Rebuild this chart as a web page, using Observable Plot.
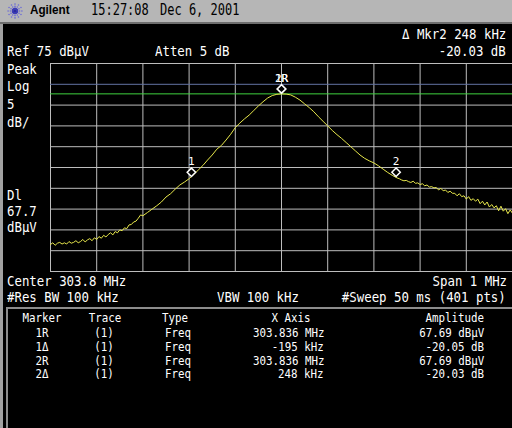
<!DOCTYPE html>
<html><head><meta charset="utf-8">
<script src="https://cdn.jsdelivr.net/npm/d3@7"></script>
<script src="https://cdn.jsdelivr.net/npm/@observablehq/plot@0.6"></script>
<style>
html,body{margin:0;padding:0;background:#000;}
#screen{position:relative;width:512px;height:428px;overflow:hidden;background:#000;}
.t{position:absolute;white-space:pre;line-height:1;font-family:"DejaVu Sans Mono",monospace;color:#fff;}
</style></head>
<body><div id="screen"></div>
<script>
// ---- data (frequency offset from centre, kHz ; level, dBµV) ----
const freqKHz = [
 -500,-495,-490,-485,-480,-475,-470,-465,-460,-455,-450,-445,-440,-435,-430,-425,-420,-415,-410,-405,
 -400,-395,-390,-385,-380,-375,-370,-365,-360,-355,-350,-345,-340,-335,-330,-325,-320,-315,-310,-305,-300,
 -290,-280,-270,-260,-250,-240,-230,-220,-210,-200,-190,-180,-170,-160,-150,-140,-130,-120,-110,-100,
 -90,-80,-70,-60,-50,-40,-30,-20,-10,0,10,20,30,40,50,60,70,80,90,100,110,120,130,140,150,160,170,180,190,
 200,210,220,230,240,250,
 255,260,265,270,275,280,285,290,295,300,305,310,315,320,325,330,335,340,345,350,355,360,365,370,375,
 380,385,390,395,400,405,410,415,420,425,430,435,440,445,450,455,460,465,470,475,480,485,490,495,500];
const levelDb = [
 31.5,31.9,31.3,31.8,32.0,31.6,31.9,31.6,32.2,31.8,32.0,32.4,31.9,32.2,32.7,32.1,32.6,32.9,32.4,33.1,
 32.7,33.4,33.0,33.7,33.3,33.9,34.3,33.8,34.6,34.3,35.0,34.8,35.5,35.3,36.2,36.3,36.9,37.1,37.8,38.6,38.4,
 39.2,40.0,40.8,41.7,42.9,43.7,44.8,45.8,46.5,47.3,48.3,49.4,50.5,51.8,53.0,54.4,55.3,56.6,58.0,59.6,
 60.7,61.7,62.6,63.7,64.8,65.8,66.7,67.3,67.6,67.69,67.65,67.45,66.9,66.2,65.3,64.4,63.4,62.2,61.1,60.0,58.9,57.9,57.0,56.0,55.0,54.0,53.0,52.2,51.6,
 51.1,50.4,49.6,48.8,48.1,47.5,
 47.3,47.0,46.8,46.9,46.6,46.4,46.7,46.2,46.3,45.9,46.1,45.6,45.8,45.3,45.4,45.1,45.2,44.6,45.0,44.4,44.6,44.0,44.3,43.8,43.8,
 43.2,43.7,43.0,43.2,42.4,43.0,42.1,42.5,41.9,42.4,41.3,41.9,41.0,41.7,40.5,41.1,40.3,40.8,39.6,40.7,39.5,40.1,38.9,39.8,39.0];

const gridKHz = [-500,-400,-300,-200,-100,0,100,200,300,400,500];
const gridDb = [25,30,35,40,45,50,55,60,65,75];
const refLineDb = [70];
const displayLineDb = [67.7];

const markerNames = ["1","1R","2R","2"];
const markerKHz = [-195,0,0,248];
const markerDb = [47.64,67.69,67.69,47.66];

const topTexts = ["Ref 75 dBµV","Atten 5 dB","Δ Mkr2 248 kHz","-20.03 dB"];
const sideTexts = ["Peak","Log","5","dB/","Dl","67.7","dBµV"];
const bottomTexts = ["Center 303.8 MHz","Span 1 MHz","#Res BW 100 kHz","VBW 100 kHz","#Sweep 50 ms (401 pts)"];
const tableHeader = ["Marker","Trace","Type","X Axis","Amplitude"];
const tableMarker = ["1R","1Δ","2R","2Δ"];
const tableTrace = ["(1)","(1)","(1)","(1)"];
const tableType = ["Freq","Freq","Freq","Freq"];
const tableX = ["303.836 MHz","-195 kHz","303.836 MHz","248 kHz"];
const tableAmp = ["67.69 dBµV","-20.05 dB","67.69 dBµV","-20.03 dB"];

// ---- page ----
const screen = document.getElementById("screen");
function box(css){const d=document.createElement("div");d.style.cssText="position:absolute;"+css;screen.appendChild(d);return d;}

const trace = freqKHz.map((f,i)=>({f, db: levelDb[i]}));
const markers = markerNames.map((n,i)=>({n, f: markerKHz[i], db: markerDb[i]}));

const plot = Plot.plot({
  width: 512, height: 266,
  marginLeft: 50, marginRight: 0, marginTop: 39, marginBottom: 19,
  x: {domain: [-500, 500], axis: null},
  y: {domain: [25, 75], axis: null},
  style: {background: "#000", color: "#fff", fontFamily: "DejaVu Sans Mono", fontSize: "11px"},
  marks: [
    Plot.ruleX(gridKHz, {stroke: "#bdbdbd", strokeWidth: 1}),
    Plot.ruleY(gridDb, {stroke: "#bdbdbd", strokeWidth: 1}),
    Plot.ruleY(refLineDb, {stroke: "#6373a4", strokeWidth: 1}),
    Plot.ruleY(displayLineDb, {stroke: "#3fd23f", strokeWidth: 1}),
    Plot.line(trace, {x: "f", y: "db", stroke: "#e8e84c", strokeWidth: 1}),
    Plot.dot(markers, {x: "f", y: "db", symbol: "diamond2", r: 3.8, stroke: "#fff", fill: "#000", strokeWidth: 1.5, dy: -5}),
    Plot.text(markers, {x: "f", y: "db", text: "n", dy: -15.5, fill: "#fff"})
  ]
});
plot.style.position = "absolute";
plot.style.left = "0px";
plot.style.top = "24px";
screen.appendChild(plot);

// frame pieces
box("left:0;top:0;width:512px;height:22px;background:#b6b6b6;");
box("left:0;top:22px;width:512px;height:2px;background:#6e6e6e;");
box("left:0;top:24px;width:3px;height:404px;background:#a2a2a2;");
box("left:6px;top:307px;width:520px;height:130px;border-top:2px solid #8c8c8c;border-left:2px solid #8c8c8c;background:#000;");

// logo
(function(){
  const ns="http://www.w3.org/2000/svg";
  const s=document.createElementNS(ns,"svg");
  s.setAttribute("width","16");s.setAttribute("height","16");
  s.style.cssText="position:absolute;left:7px;top:3px;";
  for(let k=0;k<12;k++){
    const a=k*Math.PI/6;
    for(let j=1;j<=3;j++){
      const c=document.createElementNS(ns,"circle");
      c.setAttribute("cx",8+Math.cos(a)*j*2.3);c.setAttribute("cy",8+Math.sin(a)*j*2.3);
      c.setAttribute("r",j===1?1.1:0.8);c.setAttribute("fill",j===1?"#3a3ab8":"#6a6ad8");
      s.appendChild(c);
    }
  }
  const c=document.createElementNS(ns,"circle");c.setAttribute("cx",8);c.setAttribute("cy",8);c.setAttribute("r",1.6);c.setAttribute("fill","#2a2aa0");s.appendChild(c);
  screen.appendChild(s);
})();

function label(text, x, top, align, size, sx, extra){
  const d=document.createElement("div");
  d.className="t";
  d.textContent=text;
  let css="top:"+top+"px;font-size:"+size+"px;";
  if(align==="left"){css+="left:"+x+"px;transform-origin:left top;transform:scaleX("+sx+");";}
  else if(align==="right"){css+="right:"+(512-x)+"px;transform-origin:right top;transform:scaleX("+sx+");";}
  else {css+="left:"+x+"px;transform-origin:center top;transform:translateX(-50%) scaleX("+sx+");";}
  d.style.cssText=css+(extra||"");
  screen.appendChild(d);
}
const B=13.8, BS=0.897;
label("Agilent",30,3.3,"left",13,0.9,"font-family:'Liberation Sans',Arial,sans-serif;font-weight:bold;color:#000;");
label("15:27:08",91,2.5,"left",15,0.8,"color:#000;");
label("Dec 6, 2001",160,2.5,"left",15,0.8,"color:#000;");

label(topTexts[0],7,45.3,"left",B,BS);
label(topTexts[1],155,45.3,"left",B,BS);
label(topTexts[2],506,27.8,"right",B,BS);
label(topTexts[3],506,45.3,"right",B,BS);

const sideTops=[62.5,80.2,97.8,115.8,189.2,205.2,221.2];
sideTexts.forEach((s,i)=>label(s,7,sideTops[i],"left",B,BS));

label(bottomTexts[0],7,275.2,"left",B,BS);
label(bottomTexts[1],507,275.2,"right",B,BS);
label(bottomTexts[2],7,291.3,"left",B,BS);
label(bottomTexts[3],217,291.3,"left",B,BS);
label(bottomTexts[4],506,291.3,"right",B,BS);

const T=12, TS=0.9;
label(tableHeader[0],42,311.5,"center",T,TS);
label(tableHeader[1],105,311.5,"center",T,TS);
label(tableHeader[2],175,311.5,"center",T,TS);
label(tableHeader[3],291,311.5,"center",T,TS);
label(tableHeader[4],484,311.5,"right",T,TS);
const rowTops=[327,340.7,354.5,368.2];
rowTops.forEach((y,i)=>{
  label(tableMarker[i],42,y,"center",T,TS);
  label(tableTrace[i],104,y,"center",T,TS);
  label(tableType[i],177.5,y,"center",T,TS);
  label(tableX[i],324,y,"right",T,TS);
  label(tableAmp[i],484,y,"right",T,TS);
});
</script></body></html>
